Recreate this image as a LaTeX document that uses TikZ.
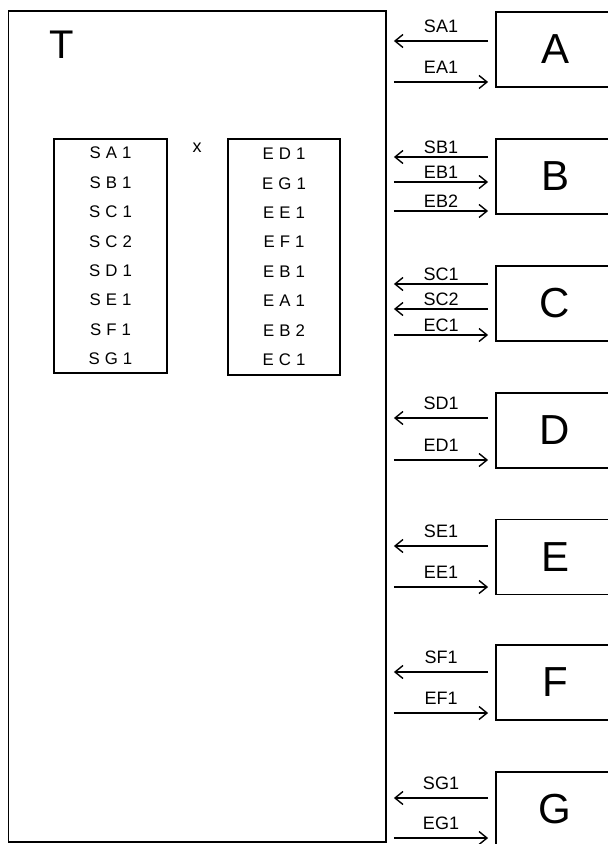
\documentclass[tikz,border=0pt]{standalone}
\usepackage{fontspec}
\setmainfont{Liberation Sans}
\usetikzlibrary{arrows.meta,calc}

\begin{document}
\begin{tikzpicture}[
    x=0.5pt, y=-0.5pt,
    >={Straight Barb[length=4pt,width=6.5pt]},
    frame/.style={rectangle, draw, line width=0.9pt, inner sep=0pt},
    unit/.style={frame, minimum width=59pt, minimum height=37.5pt, font=\fontsize{21}{24}\selectfont},
    namelist/.style={frame, minimum width=56.5pt, minimum height=117pt, align=center, font=\fontsize{8.4}{14.7}\selectfont\addfontfeatures{LetterSpace=30}},
    sig/.style={->, line width=0.7pt, shorten <=3.5pt, shorten >=3.5pt},
    siglabel/.style={above, inner sep=4pt, font=\fontsize{9}{10}\selectfont},
    tightlabel/.style={siglabel, inner sep=1.5pt}
  ]
  \useasboundingbox (0,0) rectangle (608,844);
  \clip (0,0) rectangle (608,844);

  % central block T with its two lists
  \node[frame, minimum width=188.75pt, minimum height=415.5pt] (tbox) at (197.25,426.5) {};
  \node[font=\fontsize{20}{24}\selectfont] (tlabel) at (62,45) {T};
  \node[namelist] (slist) at (110.5,256) {SA1\\SB1\\SC1\\SC2\\SD1\\SE1\\SF1\\SG1};
  \node[namelist, minimum width=56pt, minimum height=118pt] (elist) at (284,257) {ED1\\EG1\\EE1\\EF1\\EB1\\EA1\\EB2\\EC1};
  \node[font=\fontsize{9}{10}\selectfont] (cross) at (197,148) {x};

  % units on the right
  \node[unit] (A) at (555,49.5) {A};
  \node[unit] (B) at (555,176.5) {B};
  \node[unit] (C) at (555,303.5) {C};
  \node[unit] (D) at (555,430.5) {D};
  \node[unit] (E) at (555,557) {E};
  \node[unit] (F) at (555,682.5) {F};
  \node[unit] (G) at (555,809.5) {G};

  % signal ends on the units
  \coordinate (sa1) at ($(A.west)+(0,-8.5)$);
  \coordinate (ea1) at ($(A.west)+(0,32.5)$);
  \coordinate (sb1) at ($(B.west)+(0,-19.5)$);
  \coordinate (eb1) at ($(B.west)+(0,5.5)$);
  \coordinate (eb2) at ($(B.west)+(0,34.5)$);
  \coordinate (sc1) at ($(C.west)+(0,-19.5)$);
  \coordinate (sc2) at ($(C.west)+(0,5.5)$);
  \coordinate (ec1) at ($(C.west)+(0,31.5)$);
  \coordinate (sd1) at ($(D.west)+(0,-12.5)$);
  \coordinate (ed1) at ($(D.west)+(0,29.5)$);
  \coordinate (se1) at ($(E.west)+(0,-11)$);
  \coordinate (ee1) at ($(E.west)+(0,30)$);
  \coordinate (sf1) at ($(F.west)+(0,-10.5)$);
  \coordinate (ef1) at ($(F.west)+(0,30.5)$);
  \coordinate (sg1) at ($(G.west)+(0,-11.5)$);
  \coordinate (eg1) at ($(G.west)+(0,28.5)$);

  \draw[sig] (sa1) -- node[siglabel] {SA1} (tbox.east |- sa1);
  \draw[sig] (tbox.east |- ea1) -- node[siglabel] {EA1} (ea1);
  \draw[sig] (sb1) -- node[tightlabel] {SB1} (tbox.east |- sb1);
  \draw[sig] (tbox.east |- eb1) -- node[tightlabel] {EB1} (eb1);
  \draw[sig] (tbox.east |- eb2) -- node[tightlabel] {EB2} (eb2);
  \draw[sig] (sc1) -- node[tightlabel] {SC1} (tbox.east |- sc1);
  \draw[sig] (sc2) -- node[tightlabel] {SC2} (tbox.east |- sc2);
  \draw[sig] (tbox.east |- ec1) -- node[tightlabel] {EC1} (ec1);
  \draw[sig] (sd1) -- node[siglabel] {SD1} (tbox.east |- sd1);
  \draw[sig] (tbox.east |- ed1) -- node[siglabel] {ED1} (ed1);
  \draw[sig] (se1) -- node[siglabel] {SE1} (tbox.east |- se1);
  \draw[sig] (tbox.east |- ee1) -- node[siglabel] {EE1} (ee1);
  \draw[sig] (sf1) -- node[siglabel] {SF1} (tbox.east |- sf1);
  \draw[sig] (tbox.east |- ef1) -- node[siglabel] {EF1} (ef1);
  \draw[sig] (sg1) -- node[siglabel] {SG1} (tbox.east |- sg1);
  \draw[sig] (tbox.east |- eg1) -- node[siglabel] {EG1} (eg1);
\end{tikzpicture}
\end{document}
